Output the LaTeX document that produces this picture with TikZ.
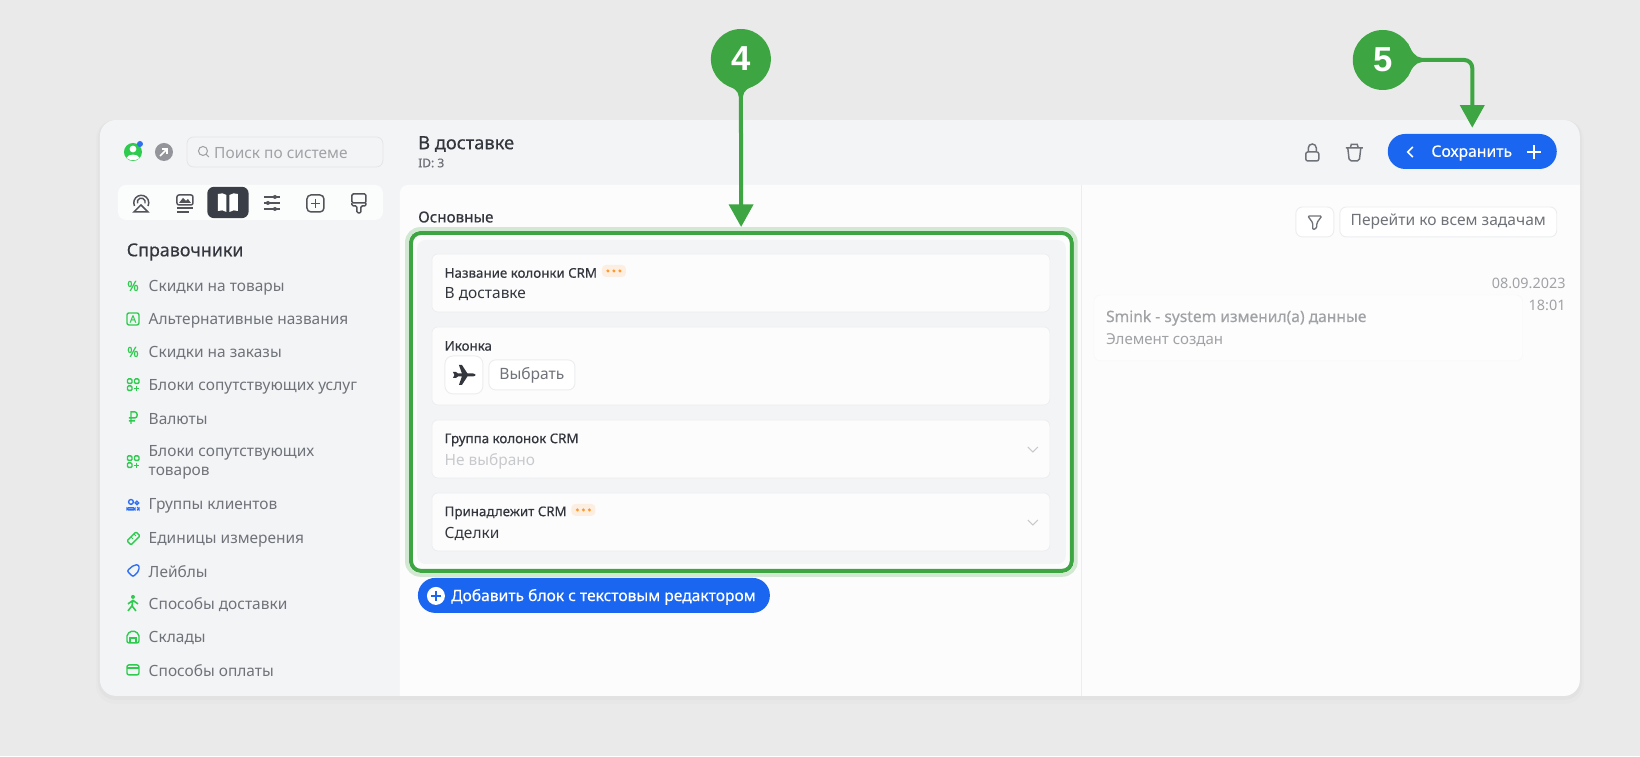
\documentclass[tikz,border=0pt]{standalone}
\usepackage{fontspec}
\setmainfont{Noto Sans}
\newfontfamily\medfont[FakeBold=0.4]{Noto Sans}
\newfontfamily\idfont[FakeBold=0.6]{Noto Sans}
\newfontfamily\numfont{Liberation Sans}
\usetikzlibrary{positioning}
\usetikzlibrary{arrows.meta}
\definecolor{pagebg}{HTML}{EAEAEA}
\definecolor{panelbg}{HTML}{F3F4F6}
\definecolor{contentbg}{HTML}{FCFCFC}
\definecolor{linegray}{HTML}{ECEDEF}
\definecolor{inkdark}{HTML}{33363D}
\definecolor{inkgray}{HTML}{6F7278}
\definecolor{inklight}{HTML}{A0A2A6}
\definecolor{inkpale}{HTML}{C8C9CC}
\definecolor{callgreen}{HTML}{3DA541}
\definecolor{callhalo}{HTML}{D3E8D2}
\definecolor{icongreen}{HTML}{2FCB4F}
\definecolor{iconblue}{HTML}{2F6FF0}
\definecolor{btnblue}{HTML}{1A66F0}
\definecolor{badgebg}{HTML}{FDEEE2}
\definecolor{badgedot}{HTML}{FF9A2E}
\definecolor{darktab}{HTML}{3A3F47}

\begin{document}
\begin{tikzpicture}[x=0.75pt,y=-0.75pt]
    \tikzset{sidetext/.style = {anchor=west, inner sep=0pt, text=inkgray, font=\fontsize{11.6}{14}\selectfont}}
    \tikzset{fieldlabel/.style = {anchor=west, inner sep=0pt, text=inkdark, font=\medfont\fontsize{10}{12}\selectfont}}
    \tikzset{fieldvalue/.style = {anchor=west, inner sep=0pt, text=inkdark, font=\fontsize{11.6}{14}\selectfont}}
    \tikzset{fieldcard/.style = {rectangle, rounded corners=4.5pt, fill=contentbg, draw=linegray, line width=0.5pt,
                                 minimum width=463.5pt, inner sep=0pt}}
    \tikzset{whitebtn/.style = {rectangle, rounded corners=5pt, fill=white, draw=linegray, line width=0.7pt,
                                inner sep=0pt, text=inkgray, font=\fontsize{11.7}{14}\selectfont}}
    \tikzset{bluebtn/.style = {rectangle, rounded corners=13pt, fill=btnblue, inner sep=0pt}}
    \tikzset{badge/.style = {rectangle, rounded corners=3pt, fill=badgebg, minimum width=18pt, minimum height=9pt, inner sep=0pt}}
    \tikzset{callout/.style = {circle, fill=callgreen, text=white, minimum size=45pt, inner sep=0pt,
                               font=\numfont\bfseries\fontsize{26}{28}\selectfont}}
    \tikzset{callarrow/.style = {draw=callgreen, line width=3pt, -{Triangle[length=17pt,width=18pt]}, rounded corners=6pt}}
    \tikzset{tabicon/.style = {draw=inkdark!85, line width=1.1pt}}
    \tikzset{greenicon/.style = {draw=icongreen, line width=1.05pt}}
    \tikzset{blueicon/.style = {draw=iconblue, line width=1.05pt}}

    % page and window
    \node (page) [rectangle, fill=pagebg, minimum width=1230pt, minimum height=567pt, inner sep=0pt, anchor=north west] at (0,0) {};
    \useasboundingbox (0,0) rectangle (1640,756);
    \fill[black, opacity=0.012, rounded corners=14pt] (96,120) rectangle (1584,704);
    \fill[black, opacity=0.02, rounded corners=13pt] (98,120) rectangle (1582,700);
    \node (window) [rectangle, rounded corners=12pt, fill=panelbg, minimum width=1110pt, minimum height=432pt, inner sep=0pt] at (840,408) {};
    \path[fill=contentbg] (400,696) [rounded corners=6pt] -- (400,185) [sharp corners] -- (1580,185) [rounded corners=12pt] -- (1580,696) [sharp corners] -- cycle;
    \draw[linegray, line width=0.6pt] (1082,185) -- (1082,696);

    % top left
    \fill[icongreen] (133,152) circle (9);
    \fill[white] (133,149) circle (3.4);
    \fill[white] (126.5,158) .. controls (128,153.5) and (138,153.5) .. (139.5,158) .. controls (136,161) and (130,161) .. (126.5,158);
    \fill[iconblue] (140,144) circle (3);
    \fill[inkgray!75] (164,152) circle (9);
    \draw[white, line width=1.2pt, -{Straight Barb[length=3pt,width=6pt]}] (160,156) -- (168,148);
    \node (search) [rectangle, rounded corners=5pt, draw=black!10, line width=0.6pt, fill=panelbg, minimum width=147pt, minimum height=22.5pt, inner sep=0pt] at (285,152) {};
    \draw[inklight, line width=0.8pt] (203,151) circle (4.5) (206.5,154.5) -- (209,157);
    \node (searchtext) [sidetext, text=inklight] at (214,153) {Поиск по системе};

    % tabs
    \node (tabs) [rectangle, rounded corners=6pt, fill=white!70!panelbg, minimum width=198.75pt, minimum height=26.25pt, inner sep=0pt] at (250.5,202.5) {};
    \node (activetab) [rectangle, rounded corners=5pt, fill=darktab, minimum width=31pt, minimum height=23.5pt, inner sep=0pt] at (228,202.5) {};
    \draw[tabicon] (134.5,206) arc (155:385:7.5);
    \draw[tabicon] (137.5,203.5) arc (160:380:4);
    \draw[tabicon] (141,205) -- (134,212) -- (148,212) -- cycle;
    \draw[tabicon, rounded corners=1.5pt] (177,195) rectangle (193,205);
    \fill[inkdark!85] (179,203) -- (183,198) -- (186,201) -- (188,199) -- (191,203) -- cycle;
    \draw[tabicon] (177,208) -- (193,208) (177,212) -- (189,212);
    \fill[white] (218,194) .. controls (221,193) and (224,193) .. (226.5,195) -- (226.5,212) .. controls (224,210) and (221,210) .. (218,211) -- cycle;
    \fill[white] (229.5,195) .. controls (232,193) and (235,193) .. (238,194) -- (238,211) .. controls (235,210) and (232,210) .. (229.5,212) -- cycle;
    \draw[tabicon] (264,197) -- (280,197) (264,203) -- (280,203) (264,209) -- (280,209);
    \fill[inkdark!85] (275,197) circle (2) (268,203) circle (2) (275,209) circle (2);
    \draw[tabicon, rounded corners=3pt] (307,195) rectangle (324,212);
    \draw[tabicon] (311,203.5) -- (320,203.5) (315.5,199) -- (315.5,208);
    \draw[tabicon, rounded corners=1pt] (352,194) rectangle (366,203);
    \draw[tabicon, rounded corners=1pt] (352,203) -- (352,206) -- (357,206) -- (357,213) -- (361,213) -- (361,206) -- (366,206) -- (366,203);

    % sidebar list
    \node (sidetitle) [anchor=west, inner sep=0pt, text=inkdark, font=\medfont\fontsize{13.4}{16}\selectfont] at (126.5,252) {Справочники};
    \node (item1) [sidetext] at (148.5,288) {Скидки на товары};
    \node (item2) [sidetext] at (148.5,321) {Альтернативные названия};
    \node (item3) [sidetext] at (148.5,353) {Скидки на заказы};
    \node (item4) [sidetext] at (148.5,387) {Блоки сопутствующих услуг};
    \node (item5) [sidetext] at (148.5,419) {Валюты};
    \node (item6a) [sidetext] at (148.5,453) {Блоки сопутствующих};
    \node (item6b) [sidetext] at (148.5,473) {товаров};
    \node (item7) [sidetext] at (148.5,506) {Группы клиентов};
    \node (item8) [sidetext] at (148.5,540) {Единицы измерения};
    \node (item9) [sidetext] at (148.5,572) {Лейблы};
    \node (item10) [sidetext] at (148.5,605) {Способы доставки};
    \node (item11) [sidetext] at (148.5,638) {Склады};
    \node (item12) [sidetext] at (148.5,671) {Способы оплаты};

    % sidebar icons
    \node (pct1) [inner sep=0pt, text=icongreen, font=\idfont\fontsize{10.5}{11}\selectfont] at (133,286) {\%};
    \draw[greenicon, rounded corners=1.5pt] (127,313) rectangle (139,325);
    \node (letterA) [inner sep=0pt, text=icongreen, font=\idfont\fontsize{7.5}{8}\selectfont] at (133,319) {A};
    \node (pct3) [inner sep=0pt, text=icongreen, font=\idfont\fontsize{10.5}{11}\selectfont] at (133,352) {\%};
    \draw[greenicon, rounded corners=0.8pt] (127.5,379) rectangle (132,383.5) (134.5,379) rectangle (139,383.5) (127.5,386) rectangle (132,390.5);
    \draw[greenicon] (134,388.5) -- (139.5,388.5) (136.7,385.7) -- (136.7,391.3);
    \draw[greenicon] (131,424) -- (131,412) -- (135,412) .. controls (138,412) and (138,418) .. (135,418) -- (129,418) (129,421) -- (135,421);
    \draw[greenicon, rounded corners=0.8pt] (127.5,456) rectangle (132,460.5) (134.5,456) rectangle (139,460.5) (127.5,463) rectangle (132,467.5);
    \draw[greenicon] (134,465.5) -- (139.5,465.5) (136.7,462.7) -- (136.7,468.3);
    \draw[blueicon] (131,502) circle (2.4) (137,503) circle (1.7);
    \draw[blueicon, rounded corners=1pt] (127,510) -- (127,508) -- (135,508) -- (135,510) -- cycle (137,507.5) -- (139,508) -- (139,510) -- (137,510);
    \draw[greenicon, rounded corners=0.8pt] (127,541) -- (136,532) -- (140,536) -- (131,545) -- cycle;
    \draw[greenicon, line width=0.7pt] (131,537) -- (133,539) (134,534) -- (136,536);
    \draw[blueicon, rounded corners=1.5pt] (127,571) -- (134,565) -- (139,565) -- (139,571) -- (133,577) -- cycle;
    \fill[icongreen] (133,597) circle (2);
    \draw[greenicon, line width=1.2pt] (133,600) -- (132,606) -- (128,611) (132,606) -- (136,611) (128,604) -- (133,600.5) -- (138,604);
    \draw[greenicon, rounded corners=1.5pt] (127,643) -- (127,634) -- (133,630.5) -- (139,634) -- (139,643) -- cycle;
    \draw[greenicon] (130,643) -- (130,638) -- (136,638) -- (136,643);
    \draw[greenicon, rounded corners=1.5pt] (127,665) rectangle (139,675);
    \draw[greenicon] (127,668) -- (139,668);

    % header
    \node (title) [anchor=west, inner sep=0pt, text=inkdark, font=\medfont\fontsize{13.7}{16}\selectfont] at (418,144) {В доставке};
    \node (idlabel) [anchor=west, inner sep=0pt, text=inkgray, font=\idfont\fontsize{9}{10}\selectfont] at (418,163) {ID: 3};
    \draw[inkgray, line width=1.1pt, rounded corners=1.5pt] (1306,152) rectangle (1319,161);
    \draw[inkgray, line width=1.1pt] (1308.5,152) -- (1308.5,148) arc (180:360:4) -- (1316.5,152);
    \draw[inkgray, line width=1.1pt, rounded corners=1.5pt] (1348,148) -- (1349.5,161) -- (1359.5,161) -- (1361,148);
    \draw[inkgray, line width=1.1pt] (1346,148) -- (1363,148) (1350.5,148) -- (1351.5,144.5) -- (1357.5,144.5) -- (1358.5,148);
    \node (save) [bluebtn, minimum width=126.75pt, minimum height=26.25pt] at (1472.5,151.5) {};
    \draw[white, line width=1.2pt] (1413,147) -- (1408,152) -- (1413,157);
    \node (savetext) [inner sep=0pt, text=white, font=\medfont\fontsize{11.8}{14}\selectfont] at (1472,153) {Сохранить};
    \draw[white, line width=1.1pt] (1527,152) -- (1541,152) (1534,145) -- (1534,159);

    % main column
    \node (maintitle) [anchor=west, inner sep=0pt, text=inkdark, font=\medfont\fontsize{11.4}{14}\selectfont] at (418,217) {Основные};
    \node (mainbox) [rectangle, rounded corners=7.5pt, fill=contentbg, draw=callgreen, line width=3pt,
                     minimum width=495.75pt, minimum height=253.5pt, inner sep=0pt] at (741.5,402) {};
    \draw[callhalo, line width=2.8pt, rounded corners=10pt] (407,229) rectangle (1076,575);
    \node (innerbox) [rectangle, rounded corners=6pt, fill=panelbg, minimum width=486.5pt, minimum height=243pt, inner sep=0pt] at (741.6,402) {};

    \node (card1) [fieldcard, minimum height=43.5pt] at (741,283) {};
    \node (card2) [fieldcard, minimum height=58.5pt] at (741,366) {};
    \node (card3) [fieldcard, minimum height=43.5pt] at (741,449) {};
    \node (card4) [fieldcard, minimum height=43.5pt] at (741,522) {};

    \node (label1) [fieldlabel] at (444.5,273) {Название колонки CRM};
    \node (value1) [fieldvalue] at (444.5,294) {В доставке};
    \node (badge1) [badge] at (614,271) {};
    \fill[badgedot] (608,271) circle (1.7) (614,271) circle (1.7) (620,271) circle (1.7);

    \node (label2) [fieldlabel] at (444.5,346) {Иконка};
    \node (icontile) [whitebtn, minimum width=28.5pt, minimum height=28.5pt, rounded corners=6pt] at (464,375) {};
    \fill[inkdark] (453,372) -- (456,372) -- (458,373.5) -- (462,373.5) -- (459,365) -- (462,365) -- (467.5,373.5) -- (473,373.5) .. controls (476.5,374) and (476.5,376) .. (473,376.5)
        -- (467.5,376.5) -- (462,385) -- (459,385) -- (462,376.5) -- (458,376.5) -- (456,378) -- (453,378) -- (454.5,375) -- cycle;
    \node (pick) [whitebtn, minimum width=64.5pt, minimum height=22.5pt] at (532,375) {\raisebox{-0.6pt}{Выбрать}};

    \node (label3) [fieldlabel] at (444.5,440) {Группа колонок CRM};
    \node (value3) [fieldvalue, text=inkpale] at (444.5,461.5) {Не выбрано};
    \draw[inkpale, line width=0.8pt] (1028,447) -- (1033,452) -- (1038,447);

    \node (label4) [fieldlabel] at (444.5,513) {Принадлежит CRM};
    \node (value4) [fieldvalue] at (444.5,534) {Сделки};
    \node (badge4) [badge] at (583.5,510) {};
    \fill[badgedot] (577.5,510) circle (1.7) (583.5,510) circle (1.7) (589.5,510) circle (1.7);
    \draw[inkpale, line width=0.8pt] (1028,520) -- (1033,525) -- (1038,520);

    \node (addblock) [bluebtn, minimum width=264pt, minimum height=26.25pt] at (594,595.5) {};
    \fill[white] (436,596) circle (9);
    \draw[btnblue, line width=1.2pt] (431,596) -- (441,596) (436,591) -- (436,601);
    \node (addtext) [anchor=west, inner sep=0pt, text=white, font=\medfont\fontsize{11.7}{14}\selectfont] at (451,597) {Добавить блок с текстовым редактором};

    % right column
    \node (filter) [whitebtn, minimum width=28.5pt, minimum height=22.5pt] at (1315,222) {};
    \draw[inkgray, line width=1pt, rounded corners=1pt] (1308,216) -- (1322,216) -- (1317,223) -- (1317,228) -- (1313,230) -- (1313,223) -- cycle;
    \node (alltasks) [whitebtn, minimum width=162.75pt, minimum height=22.5pt] at (1448.5,222) {\raisebox{-0.6pt}{Перейти ко всем задачам}};
    \node (date) [anchor=east, inner sep=0pt, text=inklight, font=\fontsize{10.8}{12}\selectfont] at (1566,283) {08.09.2023};
    \node (time) [anchor=east, inner sep=0pt, text=inklight, font=\fontsize{10.8}{12}\selectfont] at (1566,305) {18:01};
    \node (logcard) [rectangle, rounded corners=5pt, fill=contentbg!60!white, draw=contentbg!98!black, line width=0.3pt, minimum width=321.75pt, minimum height=49.5pt, inner sep=0pt] at (1308.5,328) {};
    \node (logtitle) [anchor=west, inner sep=0pt, text=inklight, font=\medfont\fontsize{11.7}{13}\selectfont] at (1106,318) {Smink - system изменил(а) данные};
    \node (logtext) [anchor=west, inner sep=0pt, text=inklight, font=\fontsize{11.3}{13}\selectfont] at (1106,340) {Элемент создан};

    % callouts
    \node (four) [callout] at (741,59) {4};
    \node (five) [callout] at (1383,60) {5};
    \fill[callgreen] (727,85) .. controls (733,88) and (738.5,90) .. (739,97) -- (743,97) .. controls (743.5,90) and (749,88) .. (755,85) -- cycle;
    \fill[callgreen] (1408,43) .. controls (1411,50) and (1415,57.5) .. (1422,58) -- (1422,62) .. controls (1415,62.5) and (1411,70) .. (1408,77) -- cycle;
    \draw[callarrow, shorten >=3pt] (four) -- (mainbox);
    \draw[callarrow, shorten >=4.5pt] (five) -| (save);
\end{tikzpicture}
\end{document}
